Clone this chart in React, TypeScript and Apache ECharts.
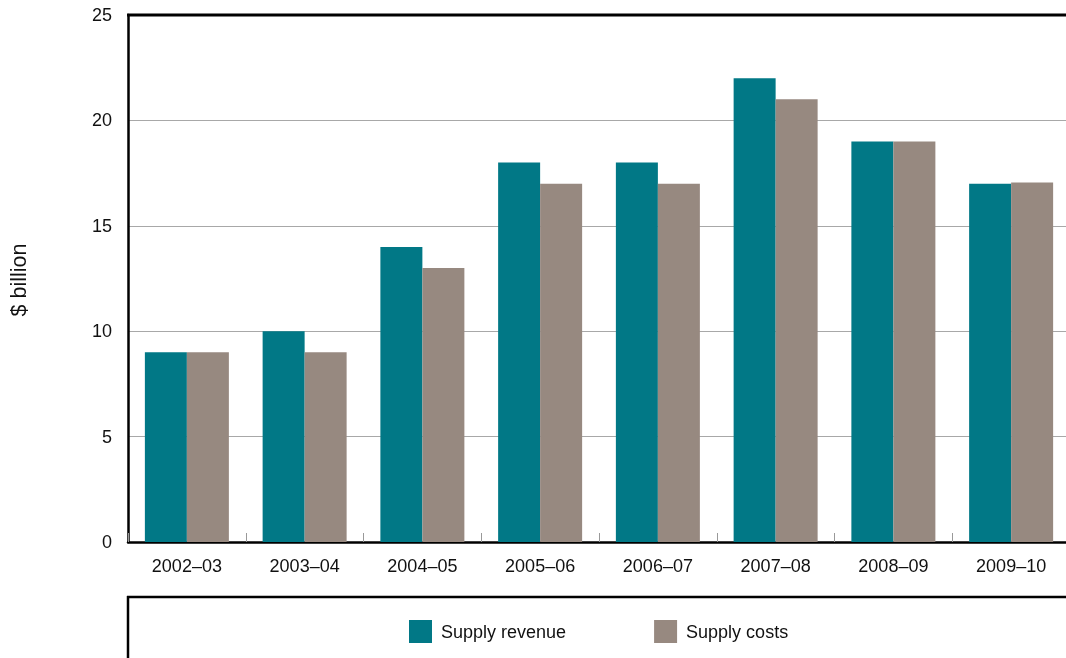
import React, { useEffect, useRef } from "react";
import * as echarts from "echarts";

const categories = ["2002–03", "2003–04", "2004–05", "2005–06", "2006–07", "2007–08", "2008–09", "2009–10"];
const supplyRevenue = [9, 10, 14, 18, 18, 22, 19, 17];
const supplyCosts = [9, 9, 13, 17, 17, 21, 19, 17.05];
const yTicks = { min: 0, max: 25, interval: 5 };

const FONT = "'Liberation Sans', Arial, sans-serif";

export default function App() {
  const ref = useRef<HTMLDivElement>(null);
  useEffect(() => {
    const chart = echarts.init(ref.current!, undefined, { renderer: "svg" });
    chart.setOption({
      animation: false,
      textStyle: { fontFamily: FONT },
      grid: { left: 128, top: 15, right: 0, bottom: 116, containLabel: false },
      legend: {
        left: 404,
        top: 615,
        itemWidth: 23,
        itemHeight: 23,
        itemGap: 88,
        icon: "rect",
        textStyle: { fontSize: 18, color: "#111", fontFamily: FONT, padding: [0, 0, 0, 4] },
        data: ["Supply revenue", "Supply costs"],
      },
      xAxis: {
        type: "category",
        data: categories,
        axisLine: { lineStyle: { color: "#000", width: 2.5 } },
        axisTick: { show: true, inside: true, length: 9, lineStyle: { color: "#999", width: 1 } },
        axisLabel: { fontSize: 18, color: "#111", margin: 15 },
      },
      yAxis: {
        type: "value",
        min: yTicks.min,
        max: yTicks.max,
        interval: yTicks.interval,
        axisLine: { show: true, lineStyle: { color: "#000", width: 2.5 } },
        axisTick: { show: false },
        axisLabel: { fontSize: 18, color: "#111", margin: 16, verticalAlign: "middle" },
        splitLine: { show: true, lineStyle: { color: "#a8a8a8", width: 1.2 } },
      },
      graphic: [
        { type: "line", shape: { x1: 127, y1: 15, x2: 1070, y2: 15 }, style: { stroke: "#000", lineWidth: 3 }, z: 100 },
        { type: "line", shape: { x1: 127, y1: 597, x2: 1070, y2: 597 }, style: { stroke: "#000", lineWidth: 2.5 }, z: 100 },
        { type: "line", shape: { x1: 128, y1: 596, x2: 128, y2: 658 }, style: { stroke: "#000", lineWidth: 2.5 }, z: 100 },
        {
          type: "text",
          x: 19,
          y: 280,
          rotation: Math.PI / 2,
          style: { text: "$ billion", fontSize: 21.5, fontFamily: FONT, fill: "#111", textAlign: "center", textVerticalAlign: "middle" },
        },
      ],
      series: [
        { name: "Supply revenue", type: "bar", data: supplyRevenue, barWidth: 42, barGap: "0%", itemStyle: { color: "#017886" } },
        { name: "Supply costs", type: "bar", data: supplyCosts, barWidth: 42, barGap: "0%", itemStyle: { color: "#978980" } },
      ],
    });
    return () => chart.dispose();
  }, []);
  return <div ref={ref} style={{ position: "fixed", left: 0, top: 0, width: 1070, height: 658 }} />;
}
